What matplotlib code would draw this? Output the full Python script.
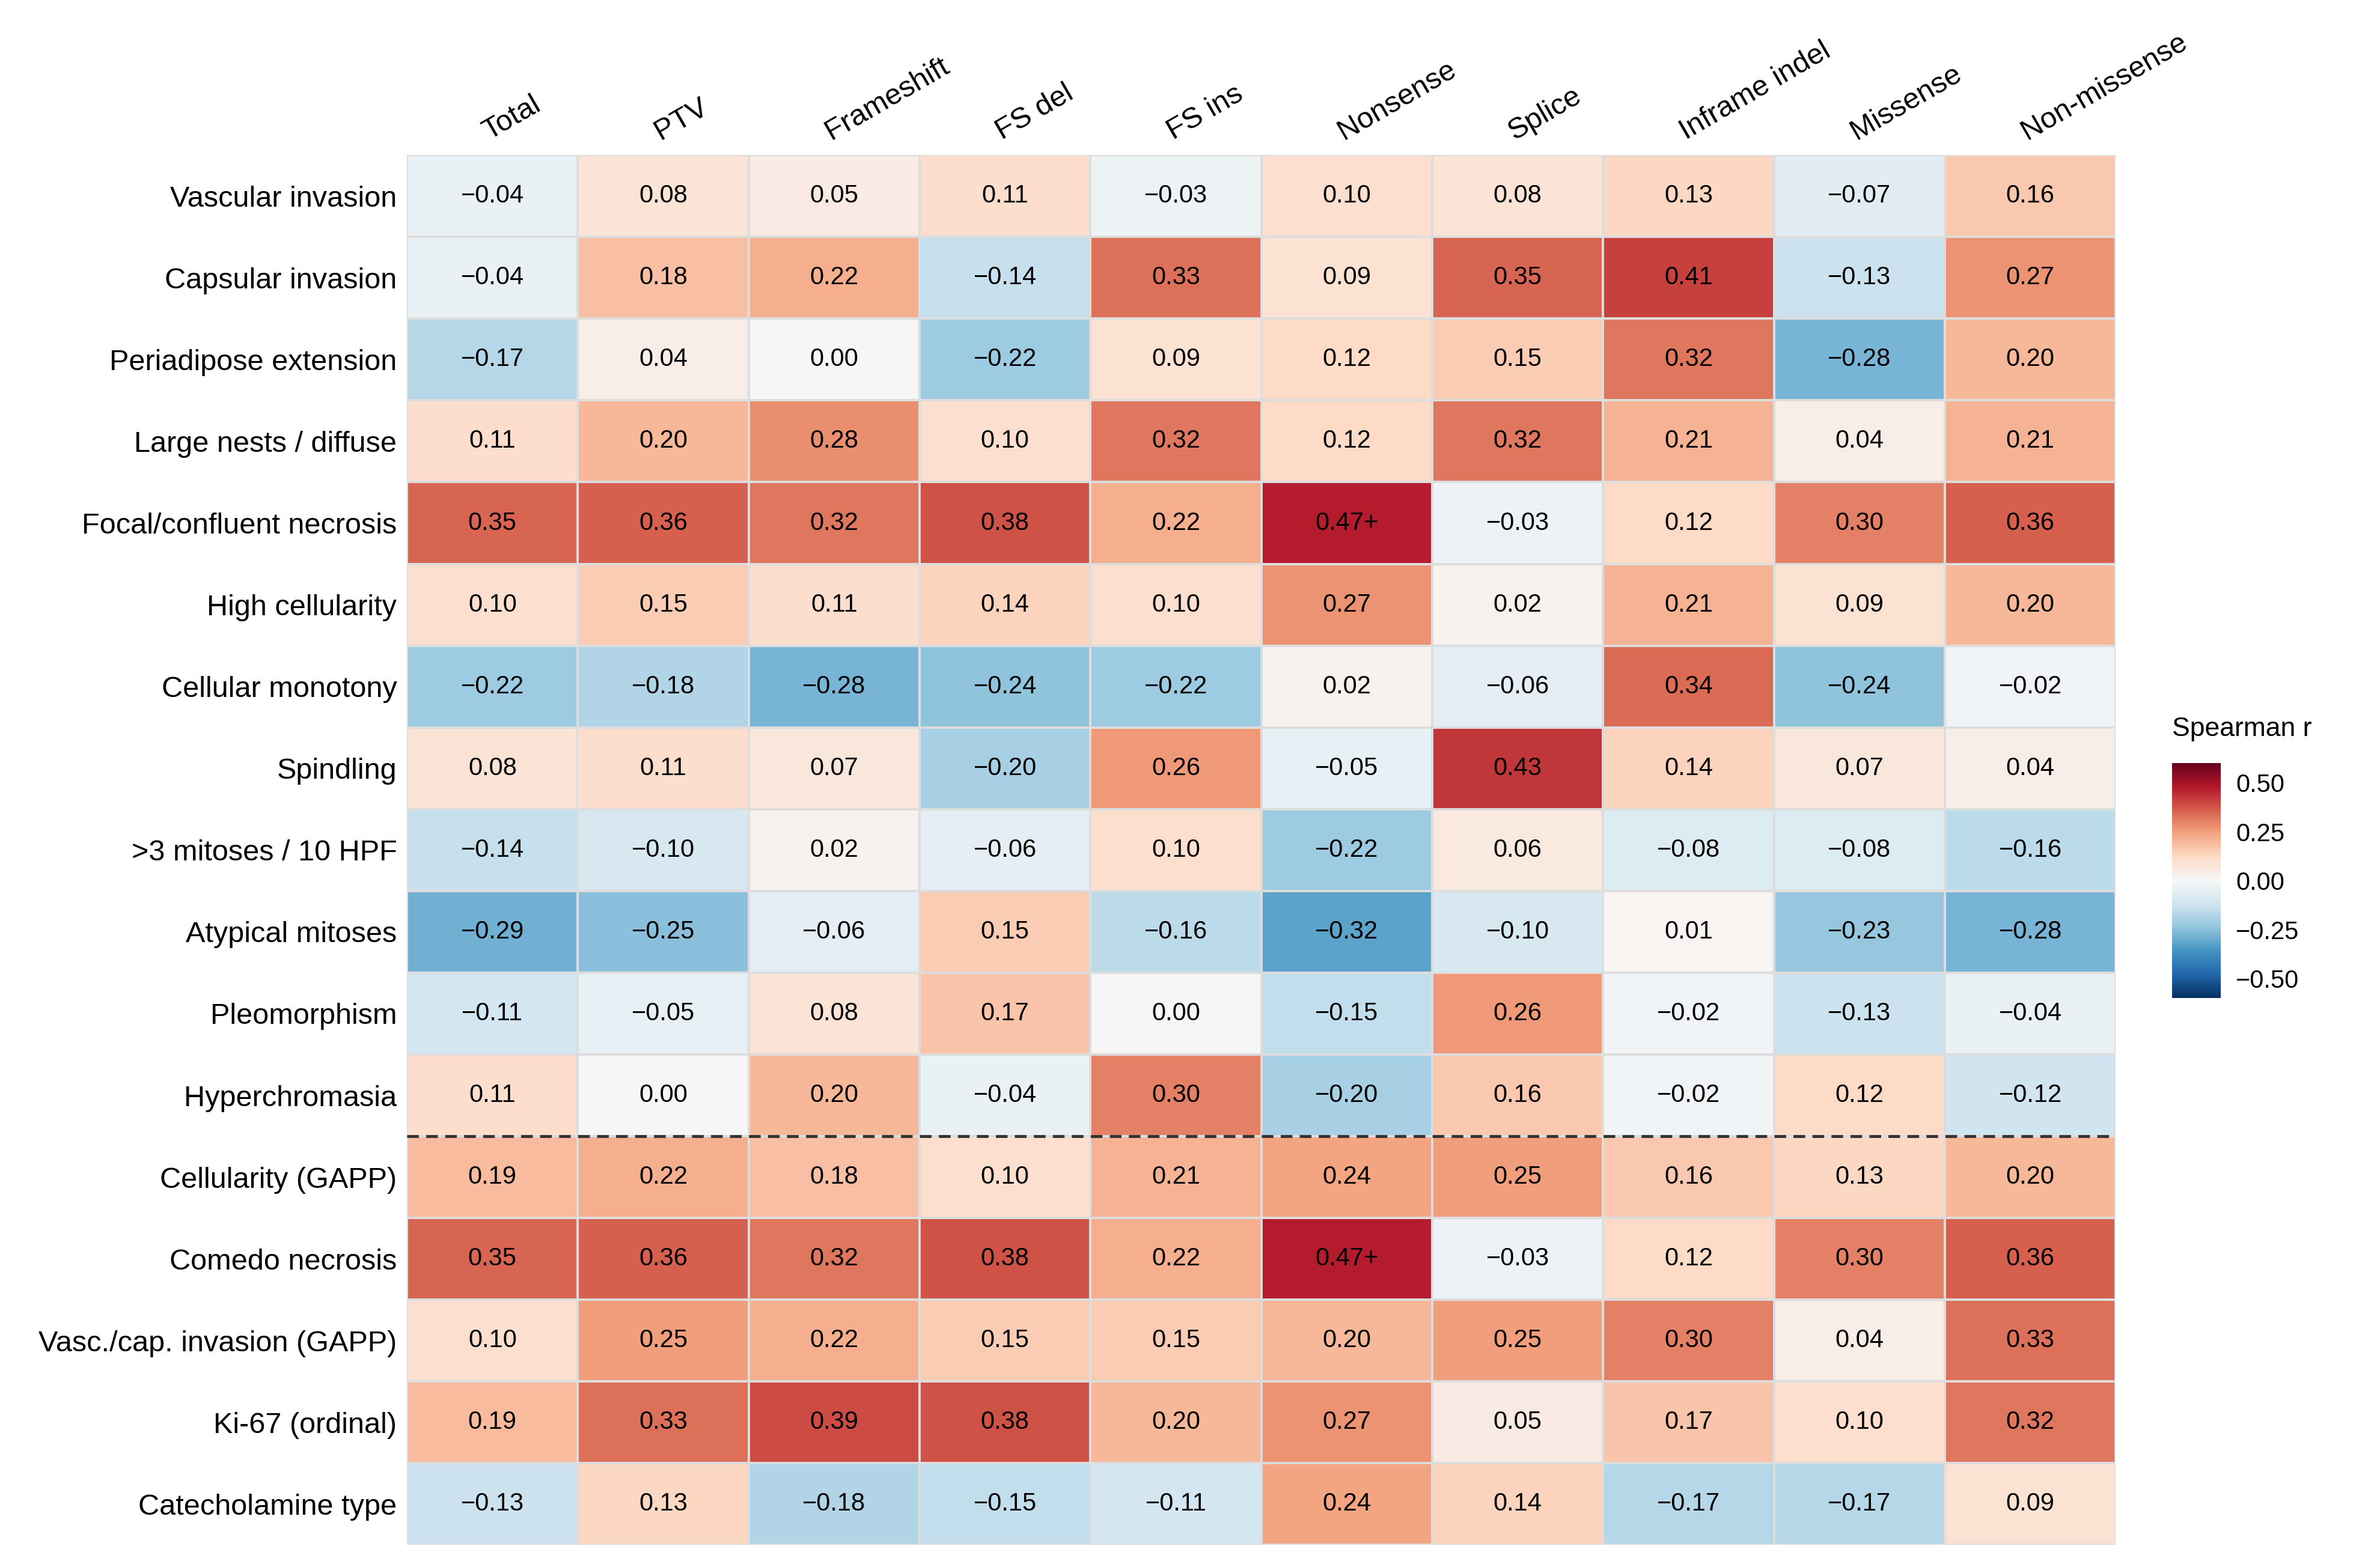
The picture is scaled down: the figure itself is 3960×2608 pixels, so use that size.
import matplotlib
matplotlib.use("Agg")
import matplotlib.pyplot as plt
import numpy as np

plt.rcParams['font.family'] = ['Liberation Sans', 'DejaVu Sans']

columns = ["Total", "PTV", "Frameshift", "FS del", "FS ins", "Nonsense", "Splice", "Inframe indel", "Missense", "Non-missense"]
rows = ["Vascular invasion", "Capsular invasion", "Periadipose extension", "Large nests / diffuse",
        "Focal/confluent necrosis", "High cellularity", "Cellular monotony", "Spindling",
        ">3 mitoses / 10 HPF", "Atypical mitoses", "Pleomorphism", "Hyperchromasia",
        "Cellularity (GAPP)", "Comedo necrosis", "Vasc./cap. invasion (GAPP)", "Ki-67 (ordinal)", "Catecholamine type"]
values = [
    [-0.04, 0.08, 0.05, 0.11, -0.03, 0.10, 0.08, 0.13, -0.07, 0.16],
    [-0.04, 0.18, 0.22, -0.14, 0.33, 0.09, 0.35, 0.41, -0.13, 0.27],
    [-0.17, 0.04, 0.00, -0.22, 0.09, 0.12, 0.15, 0.32, -0.28, 0.20],
    [0.11, 0.20, 0.28, 0.10, 0.32, 0.12, 0.32, 0.21, 0.04, 0.21],
    [0.35, 0.36, 0.32, 0.38, 0.22, 0.47, -0.03, 0.12, 0.30, 0.36],
    [0.10, 0.15, 0.11, 0.14, 0.10, 0.27, 0.02, 0.21, 0.09, 0.20],
    [-0.22, -0.18, -0.28, -0.24, -0.22, 0.02, -0.06, 0.34, -0.24, -0.02],
    [0.08, 0.11, 0.07, -0.20, 0.26, -0.05, 0.43, 0.14, 0.07, 0.04],
    [-0.14, -0.10, 0.02, -0.06, 0.10, -0.22, 0.06, -0.08, -0.08, -0.16],
    [-0.29, -0.25, -0.06, 0.15, -0.16, -0.32, -0.10, 0.01, -0.23, -0.28],
    [-0.11, -0.05, 0.08, 0.17, 0.00, -0.15, 0.26, -0.02, -0.13, -0.04],
    [0.11, 0.00, 0.20, -0.04, 0.30, -0.20, 0.16, -0.02, 0.12, -0.12],
    [0.19, 0.22, 0.18, 0.10, 0.21, 0.24, 0.25, 0.16, 0.13, 0.20],
    [0.35, 0.36, 0.32, 0.38, 0.22, 0.47, -0.03, 0.12, 0.30, 0.36],
    [0.10, 0.25, 0.22, 0.15, 0.15, 0.20, 0.25, 0.30, 0.04, 0.33],
    [0.19, 0.33, 0.39, 0.38, 0.20, 0.27, 0.05, 0.17, 0.10, 0.32],
    [-0.13, 0.13, -0.18, -0.15, -0.11, 0.24, 0.14, -0.17, -0.17, 0.09],
]
flagged = [(4, 5), (13, 5)]

data = np.array(values)
fig = plt.figure(figsize=(39.6, 26.08), dpi=100)
ax = fig.add_axes([0.171, 0.014, 0.718, 0.887])
mesh = ax.pcolormesh(data, cmap="RdBu_r", vmin=-0.6, vmax=0.6, edgecolors="#dddddd", linewidth=1.5)
ax.set_xlim(0, len(columns)); ax.set_ylim(len(rows), 0)
for i in range(len(rows)):
    for j in range(len(columns)):
        v = data[i, j]
        s = f"{v:.2f}".replace("-", "\u2212")
        if s == "\u22120.00":
            s = "0.00"
        if (i, j) in flagged:
            s += "+"
        ax.text(j + 0.5, i + 0.5, s, ha="center", va="center", fontsize=30, color="black")
ax.axhline(12, color="#333333", linestyle=(0, (4, 2.5)), linewidth=3.5)
ax.set_xticks(np.arange(len(columns)) + 0.5)
ax.set_xticklabels(columns, rotation=30, ha="left", rotation_mode="anchor", fontsize=35)
ax.set_yticks(np.arange(len(rows)) + 0.5)
ax.set_yticklabels(rows, fontsize=35)
ax.xaxis.tick_top()
ax.tick_params(length=0, pad=12)
for sp in ax.spines.values():
    sp.set_visible(False)

cax = fig.add_axes([0.9125, 0.363, 0.0206, 0.150])
cb = fig.colorbar(mesh, cax=cax, ticks=[-0.5, -0.25, 0, 0.25, 0.5])
cb.ax.set_yticklabels(["\u22120.50", "\u22120.25", "0.00", "0.25", "0.50"], fontsize=30)
cb.outline.set_visible(False)
cb.ax.tick_params(length=6, color="white", width=2, pad=12)
fig.text(0.9125, 0.527, "Spearman r", fontsize=32, ha="left", va="bottom")
fig.savefig("out.png", dpi=100)
